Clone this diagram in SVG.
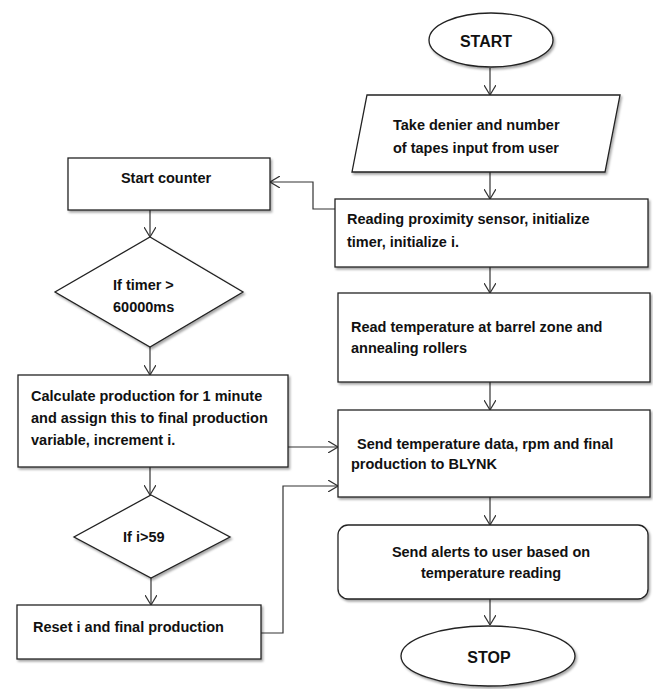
<svg xmlns="http://www.w3.org/2000/svg" width="653" height="689" viewBox="0 0 653 689">
<style>
.s{fill:#fff;stroke:#222;stroke-width:1.3;filter:url(#sh)}
.t{font-family:"Liberation Sans",Arial,sans-serif;font-weight:bold;font-size:14.5px;fill:#111}
.b{font-size:16px}
.c{fill:none;stroke:#333;stroke-width:1.2;marker-end:url(#ar)}
</style>
<defs>
<filter id="sh" x="-10%" y="-10%" width="120%" height="130%">
<feDropShadow dx="1.5" dy="2" stdDeviation="1" flood-color="#000" flood-opacity="0.35"/>
</filter>
<marker id="ar" viewBox="0 0 10 12" refX="10" refY="6" markerWidth="10" markerHeight="12" markerUnits="userSpaceOnUse" orient="auto">
<path d="M0,0 L10,6 L0,12" fill="none" stroke="#333" stroke-width="1.2"/>
</marker>
</defs>
<rect width="653" height="689" fill="#fff"/>
<g id="connectors">
<path class="c" d="M490,68 V95"/>
<path class="c" d="M490,172 V199"/>
<path class="c" d="M335,209 H313 V182 H270"/>
<path class="c" d="M490,267 V293"/>
<path class="c" d="M490,382 V410"/>
<path class="c" d="M490,497 V525"/>
<path class="c" d="M490,599 V625"/>
<path class="c" d="M150,210 V237"/>
<path class="c" d="M150,347 V375"/>
<path class="c" d="M288,447 H338"/>
<path class="c" d="M150,467 V495"/>
<path class="c" d="M151,578 V605"/>
<path class="c" d="M261,633 H283 V486 H338"/>
</g>
<g id="start">
<ellipse class="s" cx="491" cy="40" rx="62" ry="27"/>
<text class="t b" x="486" y="47" text-anchor="middle">START</text>
</g>
<g id="input">
<polygon class="s" points="367,95 620,95 605,172 352,172"/>
<text class="t" x="393" y="130">Take denier and number</text>
<text class="t" x="393" y="153">of tapes input from user</text>
</g>
<g id="reading">
<rect class="s" x="335" y="199" width="313" height="68"/>
<text class="t" x="347" y="224">Reading proximity sensor, initialize</text>
<text class="t" x="347" y="247">timer, initialize i.</text>
</g>
<g id="readtemp">
<rect class="s" x="338" y="293" width="312" height="89"/>
<text class="t" x="351" y="332">Read temperature at barrel zone and</text>
<text class="t" x="351" y="353">annealing rollers</text>
</g>
<g id="send">
<rect class="s" x="338" y="410" width="312" height="87"/>
<text class="t" x="357" y="449">Send temperature data, rpm and final</text>
<text class="t" x="351" y="469">production to BLYNK</text>
</g>
<g id="alerts">
<rect class="s" x="338" y="525" width="310" height="74" rx="10"/>
<text class="t" x="491" y="557" text-anchor="middle">Send alerts to user based on</text>
<text class="t" x="491" y="578" text-anchor="middle">temperature reading</text>
</g>
<g id="stop">
<ellipse class="s" cx="488" cy="656" rx="87" ry="30"/>
<text class="t b" x="489" y="663" text-anchor="middle">STOP</text>
</g>
<g id="counter">
<rect class="s" x="68" y="158" width="202" height="52"/>
<text class="t" x="166" y="183" text-anchor="middle">Start counter</text>
</g>
<g id="timer">
<polygon class="s" points="150,237 243,292 150,347 55,292"/>
<text class="t" x="113" y="290">If timer &gt;</text>
<text class="t" x="113" y="312">60000ms</text>
</g>
<g id="calculate">
<rect class="s" x="18" y="375" width="270" height="92"/>
<text class="t" x="31" y="401">Calculate production for 1 minute</text>
<text class="t" x="31" y="423">and assign this to final production</text>
<text class="t" x="31" y="445">variable, increment i.</text>
</g>
<g id="check">
<polygon class="s" points="151,495 230,537 151,578 74,537"/>
<text class="t" x="123" y="542">If i&gt;59</text>
</g>
<g id="reset">
<rect class="s" x="17" y="605" width="244" height="54"/>
<text class="t" x="33" y="632">Reset i and final production</text>
</g>
</svg>
